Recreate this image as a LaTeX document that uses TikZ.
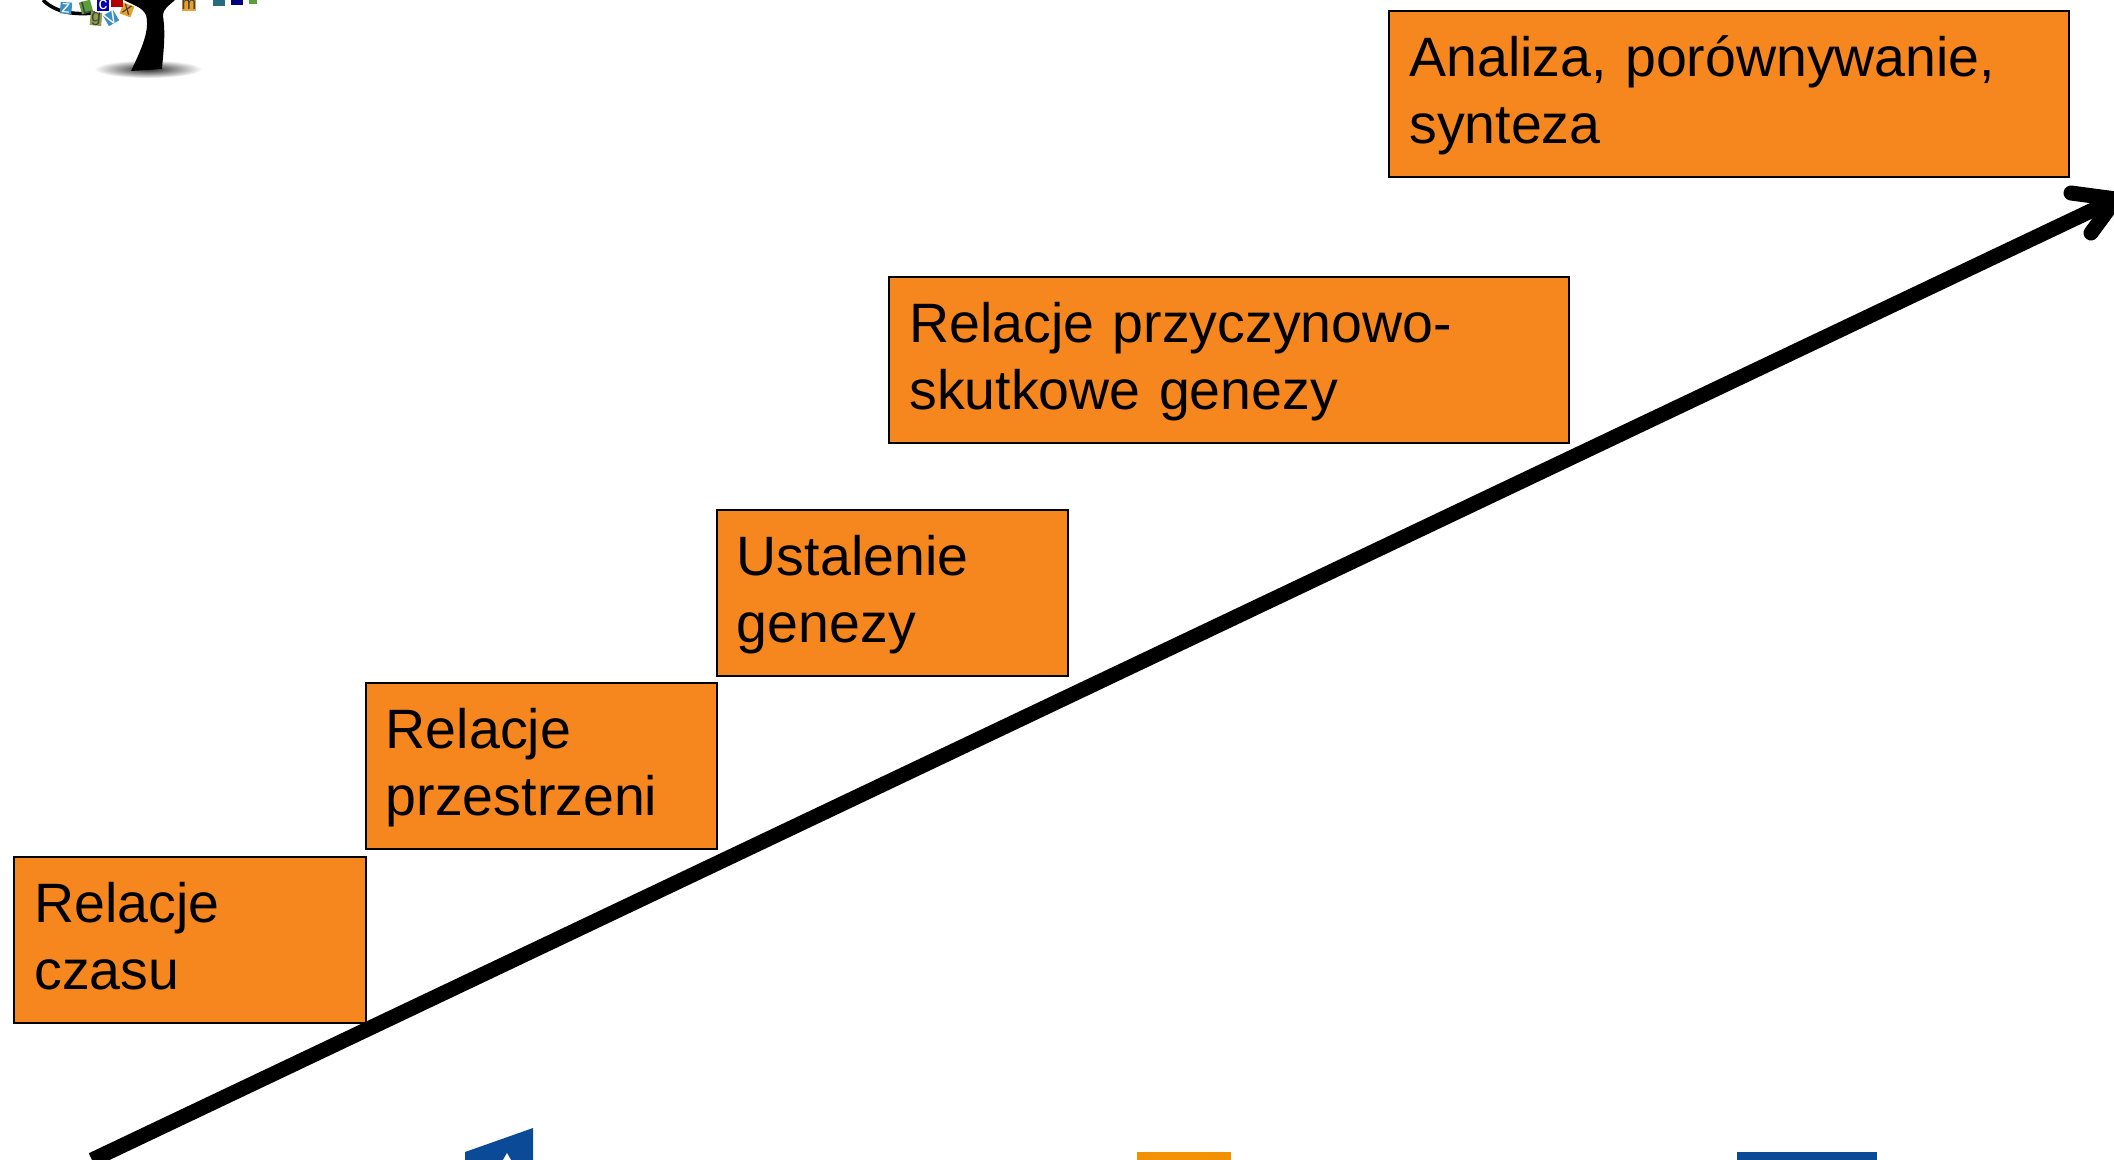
\documentclass[tikz,border=0pt]{standalone}
\usepackage{fontspec}
\setmainfont{Liberation Sans}
\definecolor{boxorange}{HTML}{F6871F}
\definecolor{logoblue}{HTML}{0B4A97}
\definecolor{logoorange}{HTML}{F39200}
\definecolor{tileblue}{HTML}{3A8FC5}
\definecolor{tilegreen}{HTML}{5A9E3C}
\definecolor{tileolive}{HTML}{8FA04A}
\definecolor{tileorange}{HTML}{E8A030}
\definecolor{tileteal}{HTML}{2A6A80}

\begin{document}
\begin{tikzpicture}
	 [x=.01cm,y=-.01cm,
	 box/.style={rectangle,draw=black,fill=boxorange,line width=.6pt,minimum height=1.66cm,inner xsep=.2cm,inner ysep=0pt,align=left,execute at begin node={\rule{0pt}{.44cm}},execute at end node={\rule[-.12cm]{0pt}{0pt}},font=\fontsize{15.78}{19.06}\selectfont},
	 narrowbox/.style={box,text width=3.11cm},
	 widebox/.style={box,text width=6.39cm},
	 tile/.style={rectangle,inner sep=0pt,minimum size=.115cm,text=black!75,font=\fontsize{5}{5}\selectfont}]
	\clip (0,0) rectangle (2114,1160);

	% tree
	\shade[inner color=black!85,outer color=white] (148,69) ellipse (54 and 9);
	\fill[black] (131,71) .. controls (142,48) and (150,30) .. (146,15) .. controls (142,7) and (135,6) .. (124,0) -- (175,0) .. controls (170,5) and (163,8) .. (163,16) .. controls (166,35) and (163,55) .. (162,69) -- cycle;
	\draw[line width=1pt] (43,0) .. controls (55,12) and (72,15) .. (95,13);
	\node[tile,fill=tileblue,text=white,rotate=-5] (z) at (66,8) {z};
	\node[tile,fill=tilegreen,rotate=15] (l) at (86,7) {L};
	\node[tile,fill=tileolive,rotate=-5] (g) at (96,19) {g};
	\node[tile,fill=tileblue,text=white,rotate=30] (v) at (111,18) {V};
	\node[tile,fill=tileorange,rotate=-20] (x) at (127,10) {x};
	\node[tile,fill=blue!70!black,text=white] (c) at (103,5) {c};
	\node[tile,fill=red!70!black] (r) at (117,1) {};
	\node[tile,fill=tileorange] (m) at (189,5) {m};
	\node[tile,fill=tileteal] (t1) at (219,0) {};
	\node[tile,fill=blue!50!black] (t2) at (237,-1) {};
	\node[tile,fill=tilegreen,minimum size=.07cm] (t3) at (253,0) {};

	% arrow
	\coordinate (s) at (92,1160);
	\coordinate (t) at (2116,199);
	\coordinate (u) at (2071,193);
	\coordinate (w) at (2091,233);
	\draw[line width=.15cm] (s) -- (t);
	\foreach \from/\to in {t/u,t/w}
	\draw[line width=.15cm,line cap=round] (\from) -- (\to);

	\node[narrowbox] (b1) at (190,940) {Relacje\\czasu};
	\node[narrowbox] (b2) at (541.5,766) {Relacje\\przestrzeni};
	\node[narrowbox] (b3) at (892.5,593) {Ustalenie\\genezy};
	\node[widebox] (b4) at (1229,360) {Relacje przyczynowo-\\skutkowe genezy};
	\node[widebox] (b5) at (1729,94) {Analiza, porównywanie,\\synteza};

	% logos at the bottom
	\fill[logoblue] (465,1152) -- (533,1128) -- (533,1160) -- (465,1160) -- cycle;
	\fill[white] (507,1153) -- (511,1160) -- (503,1160) -- cycle;
	\fill[logoorange] (1137,1152) rectangle (1231,1160);
	\fill[logoblue] (1737,1152) rectangle (1877,1160);
\end{tikzpicture}
\end{document}
